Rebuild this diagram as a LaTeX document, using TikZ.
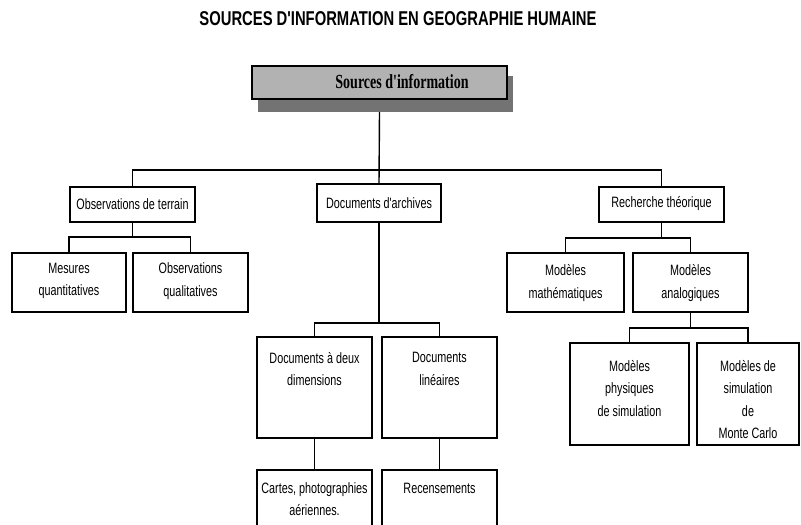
\documentclass[tikz,border=0pt]{standalone}
\usepackage{fontspec}
\setmainfont{Liberation Sans}
\newfontfamily\boxfont{Liberation Sans}[FakeStretch=0.72]
\newfontfamily\titlefont{Liberation Sans}[FakeStretch=0.74]
\newfontfamily\srcfont{Liberation Serif}[FakeStretch=0.7]
\newcommand{\mkbox}[6][]{\node[box,#1,minimum width={(#5-#3)*1pt},minimum height={(#6-#4)*1pt}] (#2) at ({(#3+#5)/2},{(#4+#6)/2}) {};}
\begin{document}
\begin{tikzpicture}[x=1pt,y=-1pt,
  box/.style={draw=black, line width=1.8pt, fill=white, inner sep=0pt, outer sep=0pt},
  lbl/.style={font=\boxfont\fontsize{15}{22.5}\selectfont, align=center, inner sep=0pt},
  link/.style={draw=black, line width=1.4pt},
]
\fill[white] (0,0) rectangle (801,525);
\useasboundingbox (0,0) rectangle (801,525);
\begin{scope}
\clip (0,0) rectangle (801,525);
% title
\node[font=\titlefont\bfseries\fontsize{20}{23}\selectfont, inner sep=0pt] (title) at (398,19) {SOURCES D'INFORMATION EN GEOGRAPHIE HUMAINE};
% top box with shadow
\mkbox[draw=none, fill=black!55]{srcsh}{258}{76}{513}{112}
\mkbox[fill=black!30, line width=1.8pt]{src}{252}{66}{507}{99}
\node[font=\srcfont\bfseries\fontsize{20}{22}\selectfont, inner sep=0pt] (t-src) at (402,82) {Sources d'information};
% level 1
\mkbox{obs}{70}{187}{195}{222}
\mkbox{arch}{317}{184}{441}{222}
\mkbox{rech}{599}{187}{724}{222}
% level 2
\mkbox{mes}{12}{253}{126}{312}
\mkbox{obsq}{133}{253}{248}{312}
\mkbox{math}{507}{253}{624}{312}
\mkbox{anal}{633}{253}{748}{312}
\mkbox{deux}{257}{337}{372}{438}
\mkbox{lin}{382}{337}{497}{438}
\mkbox{phys}{570}{343}{689}{445}
\mkbox{monte}{697}{343}{799}{445}
\mkbox{cartes}{257}{470}{372}{535}
\mkbox{rec}{382}{470}{497}{535}
% labels
\node[lbl] (t-obs) at (132.5,204) {Observations de terrain};
\node[lbl] (t-arch) at (379,203) {Documents d'archives};
\node[lbl] (t-rech) at (661.5,204) {Recherche théorique};
\node[lbl] (t-mes) at (69,281) {Mesures\\quantitatives};
\node[lbl] (t-obsq) at (190.5,281) {Observations\\qualitatives};
\node[lbl] (t-math) at (565.5,283) {Modèles\\mathématiques};
\node[lbl] (t-anal) at (690.5,283) {Modèles\\analogiques};
\node[lbl] (t-deux) at (314.5,369) {Documents à deux\\dimensions};
\node[lbl] (t-lin) at (439.5,369) {Documents\\linéaires};
\node[lbl] (t-phys) at (629.5,388.5) {Modèles\\physiques\\de simulation};
\node[lbl] (t-monte) at (748,399.5) {Modèles de\\simulation\\de\\Monte Carlo};
\node[lbl] (t-cartes) at (314.5,499) {Cartes, photographies\\aériennes.};
\node[lbl] (t-rec) at (439.5,488) {Recensements};
% connectors
\coordinate (j0) at (379,170);
\draw[link] (src.south |- srcsh.south) -- (arch.north);
\draw[link] (obs.north) |- (j0) -| (rech.north);
\path (obs.south) ++(0,15) coordinate (j1);
\draw[link] (obs.south) -- (j1);
\draw[link] (mes.north) |- (j1) -| (obsq.north);
\path (arch.south) ++(0,101) coordinate (j2);
\draw[link] (arch.south) -- (j2);
\draw[link] (deux.north) |- (j2) -| (lin.north);
\draw[link] (deux.south) -- (cartes.north);
\draw[link] (lin.south) -- (rec.north);
\path (rech.south) ++(0,16) coordinate (j3);
\draw[link] (rech.south) -- (j3);
\draw[link] (math.north) |- (j3) -| (anal.north);
\path (anal.south) ++(0,16) coordinate (j4);
\draw[link] (anal.south) -- (j4);
\draw[link] (phys.north) |- (j4) -| (monte.north);
\end{scope}
\end{tikzpicture}
\end{document}
